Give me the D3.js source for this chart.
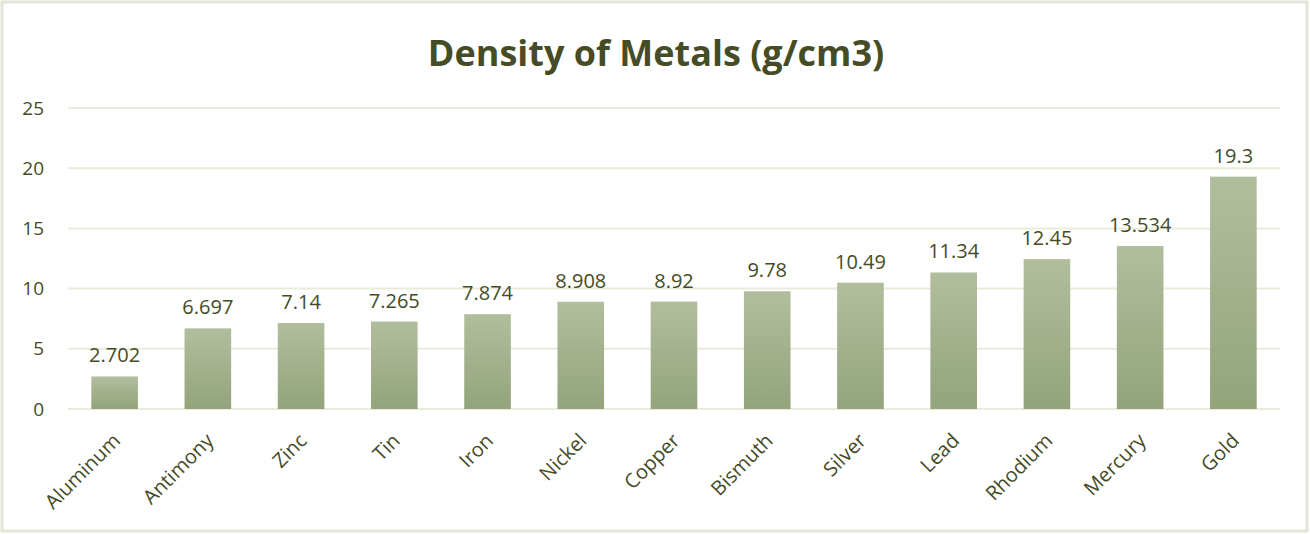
<!DOCTYPE html>
<html>
<head>
<meta charset="utf-8">
<script src="https://cdn.jsdelivr.net/npm/d3@7"></script>
<style>
  body { margin: 0; background: #fff; }
  text { font-family: "Open Sans", "Noto Sans", sans-serif; fill: #454b26; }
</style>
</head>
<body>
<svg id="chart" width="1310" height="534"></svg>
<script>
const metals = ["Aluminum", "Antimony", "Zinc", "Tin", "Iron", "Nickel", "Copper", "Bismuth", "Silver", "Lead", "Rhodium", "Mercury", "Gold"];
const density = [2.702, 6.697, 7.14, 7.265, 7.874, 8.908, 8.92, 9.78, 10.49, 11.34, 12.45, 13.534, 19.3];
const yTicks = [0, 5, 10, 15, 20, 25];

const svg = d3.select("#chart");
const width = +svg.attr("width");
const height = +svg.attr("height");
const margin = { top: 108, right: 30, bottom: 125, left: 68 };

// border
svg.append("rect")
  .attr("x", 2).attr("y", 2)
  .attr("width", width - 5).attr("height", height - 5)
  .attr("fill", "#fff")
  .attr("stroke", "#e1e6d6")
  .attr("stroke-width", 3);

const defs = svg.append("defs");
const grad = defs.append("linearGradient")
  .attr("id", "barGrad")
  .attr("x1", 0).attr("y1", 0).attr("x2", 0).attr("y2", 1);
grad.append("stop").attr("offset", "0%").attr("stop-color", "#b1be9d");
grad.append("stop").attr("offset", "100%").attr("stop-color", "#93a47b");

const x = d3.scaleBand()
  .domain(metals)
  .range([margin.left, width - margin.right])
  .paddingInner(0.5)
  .paddingOuter(0.25);

const y = d3.scaleLinear()
  .domain([0, 25])
  .range([height - margin.bottom, margin.top]);

// gridlines
svg.append("g")
  .selectAll("line")
  .data(yTicks)
  .join("line")
  .attr("x1", margin.left)
  .attr("x2", width - margin.right)
  .attr("y1", (d) => y(d))
  .attr("y2", (d) => y(d))
  .attr("stroke", "#e9ecdb")
  .attr("stroke-width", 2);

// y labels
svg.append("g")
  .selectAll("text")
  .data(yTicks)
  .join("text")
  .attr("x", 44)
  .attr("y", (d) => y(d))
  .attr("dy", "0.35em")
  .attr("text-anchor", "end")
  .style("font-size", "19px")
  .text((d) => d);

// bars
svg.append("g")
  .selectAll("rect")
  .data(density)
  .join("rect")
  .attr("x", (d, i) => x(metals[i]))
  .attr("y", (d) => y(d))
  .attr("width", x.bandwidth())
  .attr("height", (d) => y(0) - y(d))
  .attr("fill", "url(#barGrad)");

// data labels
svg.append("g")
  .selectAll("text")
  .data(density)
  .join("text")
  .attr("x", (d, i) => x(metals[i]) + x.bandwidth() / 2)
  .attr("y", (d) => y(d) - 14)
  .attr("text-anchor", "middle")
  .style("font-size", "20px")
  .text((d) => d);

// category labels
svg.append("g")
  .selectAll("text")
  .data(metals)
  .join("text")
  .attr("transform", (d) => `translate(${x(d) + x.bandwidth() / 2 + 2},${y(0) + 28}) rotate(-45)`)
  .attr("text-anchor", "end")
  .attr("dy", "0.35em")
  .style("font-size", "20px")
  .text((d) => d);

// title
svg.append("text")
  .attr("x", width / 2 + 1)
  .attr("y", 66)
  .attr("text-anchor", "middle")
  .style("font-size", "36px")
  .style("font-weight", "bold")
  .style("fill", "#464c25")
  .text("Density of Metals (g/cm3)");
</script>
</body>
</html>
